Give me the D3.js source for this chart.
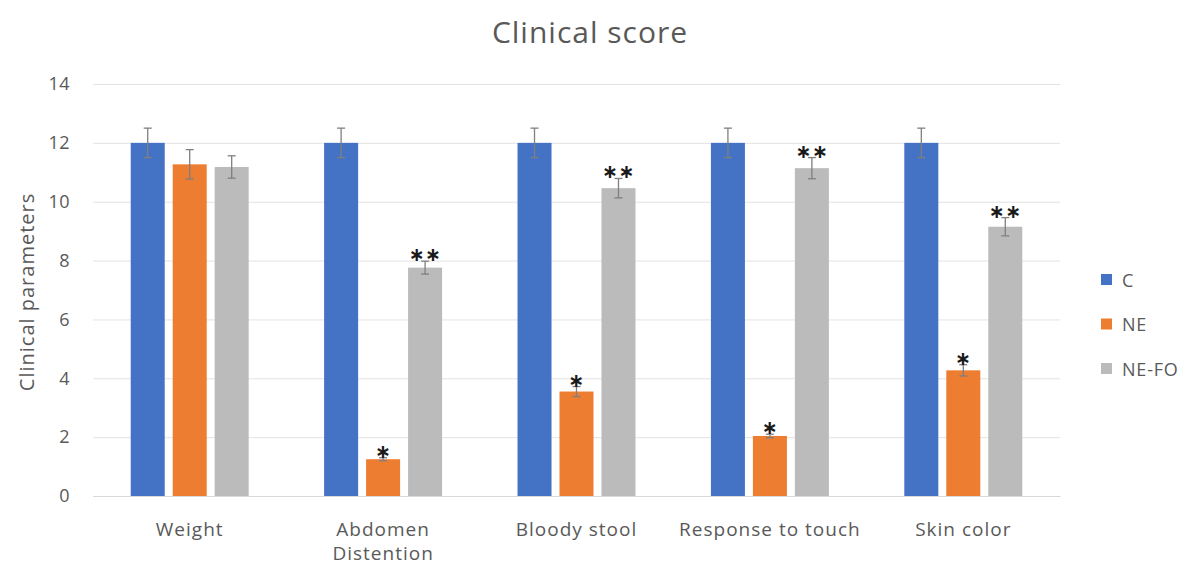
<!DOCTYPE html>
<html>
<head>
<meta charset="utf-8">
<script src="https://cdn.jsdelivr.net/npm/d3@7"></script>
<style>
  html, body { margin: 0; padding: 0; background: #fff; }
  svg { display: block; font-family: "Open Sans", Lato, sans-serif; }
</style>
</head>
<body>
<svg id="chart" width="1188" height="566"></svg>
<script>
// Clinical parameters per group, with error (SEM) and significance marks
const categories = ["Weight", "Abdomen Distention", "Bloody stool", "Response to touch", "Skin color"];
const seriesNames = ["C", "NE", "NE-FO"];
const valuesC    = [12, 12, 12, 12, 12];
const valuesNE   = [11.27, 1.25, 3.55, 2.04, 4.27];
const valuesNEFO = [11.18, 7.76, 10.46, 11.14, 9.15];
const errorsC    = [0.5, 0.5, 0.5, 0.5, 0.5];
const errorsNE   = [0.5, 0.05, 0.17, 0.06, 0.19];
const errorsNEFO = [0.38, 0.22, 0.33, 0.36, 0.31];
const marksC     = ["", "", "", "", ""];
const marksNE    = ["", "*", "*", "*", "*"];
const marksNEFO  = ["", "**", "**", "**", "**"];
const yTicks = [0, 2, 4, 6, 8, 10, 12, 14];
const colors = ["#4472C4", "#ED7D31", "#BBBBBB"];

const seriesValues = [valuesC, valuesNE, valuesNEFO];
const seriesErrors = [errorsC, errorsNE, errorsNEFO];
const seriesMarks  = [marksC, marksNE, marksNEFO];

const FONT = "'Open Sans', Lato, sans-serif";
const TEXT = "#595959";

const svg = d3.select("#chart");
const plot = { left: 93, right: 1060, top: 84, bottom: 496 };

const y = d3.scaleLinear().domain([0, 14]).range([plot.bottom, plot.top]);
const x0 = d3.scaleBand().domain(categories).range([plot.left, plot.right])
  .paddingInner(0.39).paddingOuter(0.195);
const x1 = d3.scaleBand().domain(seriesNames).range([0, x0.bandwidth()]).paddingInner(0.19);

// Title
svg.append("text")
  .attr("x", 590).attr("y", 43)
  .attr("text-anchor", "middle")
  .attr("font-size", 30)
  .attr("letter-spacing", 1)
  .attr("fill", TEXT)
  .text("Clinical score");

// Gridlines and value labels
const yAxis = d3.axisLeft(y).tickValues(yTicks).tickSize(-(plot.right - plot.left)).tickPadding(23);
const gy = svg.append("g").attr("transform", `translate(${plot.left},0)`).call(yAxis);
gy.select(".domain").remove();
gy.selectAll(".tick line").attr("stroke", "#E3E3E3").attr("stroke-width", 1);
gy.selectAll(".tick text")
  .attr("fill", TEXT)
  .attr("font-size", 18)
  .attr("letter-spacing", 0.5)
  .attr("font-family", FONT);

// Y axis title
svg.append("text")
  .attr("transform", `translate(27,${(plot.top + plot.bottom) / 2 + 2}) rotate(-90)`)
  .attr("text-anchor", "middle")
  .attr("dy", "0.35em")
  .attr("font-size", 20)
  .attr("letter-spacing", 1)
  .attr("fill", TEXT)
  .text("Clinical parameters");

// Category labels, wrapping the long one onto two lines
const xAxis = d3.axisBottom(x0).tickSize(0).tickPadding(0);
const gx = svg.append("g").attr("transform", `translate(0,${plot.bottom})`).call(xAxis);
gx.select(".domain").attr("stroke", "#D9D9D9");
gx.selectAll(".tick text").each(function (d) {
  const t = d3.select(this);
  t.text(null)
    .attr("fill", TEXT)
    .attr("font-size", 19)
    .attr("letter-spacing", 1)
    .attr("font-family", FONT)
    .attr("y", 0);
  const lines = d === "Abdomen Distention" ? ["Abdomen", "Distention"] : [d];
  lines.forEach((ln, i) => {
    t.append("tspan").attr("x", 0).attr("y", 40 + i * 24).attr("dy", 0).text(ln);
  });
});

// Bars
const groups = svg.append("g").selectAll("g")
  .data(categories)
  .join("g")
  .attr("transform", d => `translate(${x0(d)},0)`);

const rows = (cat, ci) => seriesNames.map((s, si) => ({
  series: s, si,
  value: seriesValues[si][ci],
  err: seriesErrors[si][ci],
  mark: seriesMarks[si][ci]
}));

groups.each(function (cat, ci) {
  const g = d3.select(this);
  const data = rows(cat, ci);

  g.selectAll("rect")
    .data(data)
    .join("rect")
    .attr("x", d => x1(d.series))
    .attr("y", d => y(d.value))
    .attr("width", x1.bandwidth())
    .attr("height", d => y(0) - y(d.value))
    .attr("fill", d => colors[d.si]);

  // Error bars
  const eb = g.selectAll("g.err").data(data).join("g").attr("class", "err");
  eb.append("line")
    .attr("x1", d => x1(d.series) + x1.bandwidth() / 2)
    .attr("x2", d => x1(d.series) + x1.bandwidth() / 2)
    .attr("y1", d => y(d.value - d.err))
    .attr("y2", d => y(d.value + d.err))
    .attr("stroke", "#7F7F7F").attr("stroke-width", 1.3);
  [1, -1].forEach(sgn => {
    eb.append("line")
      .attr("x1", d => x1(d.series) + x1.bandwidth() / 2 - 4)
      .attr("x2", d => x1(d.series) + x1.bandwidth() / 2 + 4)
      .attr("y1", d => y(d.value + sgn * d.err))
      .attr("y2", d => y(d.value + sgn * d.err))
      .attr("stroke", "#7F7F7F").attr("stroke-width", 1.3);
  });

  // Significance marks
  g.selectAll("text.sig")
    .data(data.filter(d => d.mark))
    .join("text")
    .attr("class", "sig")
    .attr("x", d => x1(d.series) + x1.bandwidth() / 2)
    .attr("y", d => y(d.value + d.err) + 0)
    .attr("text-anchor", "middle")
    .attr("font-size", 19)
    .attr("font-weight", "bold")
    .attr("fill", "#1a1a1a")
    .attr("font-family", "'DejaVu Sans', sans-serif")
    .attr("letter-spacing", 0.5)
    .text(d => d.mark.replace(/\*/g, "\u2217"));
});

// Legend
const legend = svg.append("g").selectAll("g")
  .data(seriesNames)
  .join("g")
  .attr("transform", (d, i) => `translate(1101,${280 + i * 44.5})`);
legend.append("rect")
  .attr("x", 0).attr("y", -6)
  .attr("width", 11).attr("height", 11)
  .attr("fill", (d, i) => colors[i]);
legend.append("text")
  .attr("x", 21).attr("y", 6.5)
  .attr("font-size", 18)
  .attr("letter-spacing", 0.8)
  .attr("fill", TEXT)
  .text(d => d);
</script>
</body>
</html>
